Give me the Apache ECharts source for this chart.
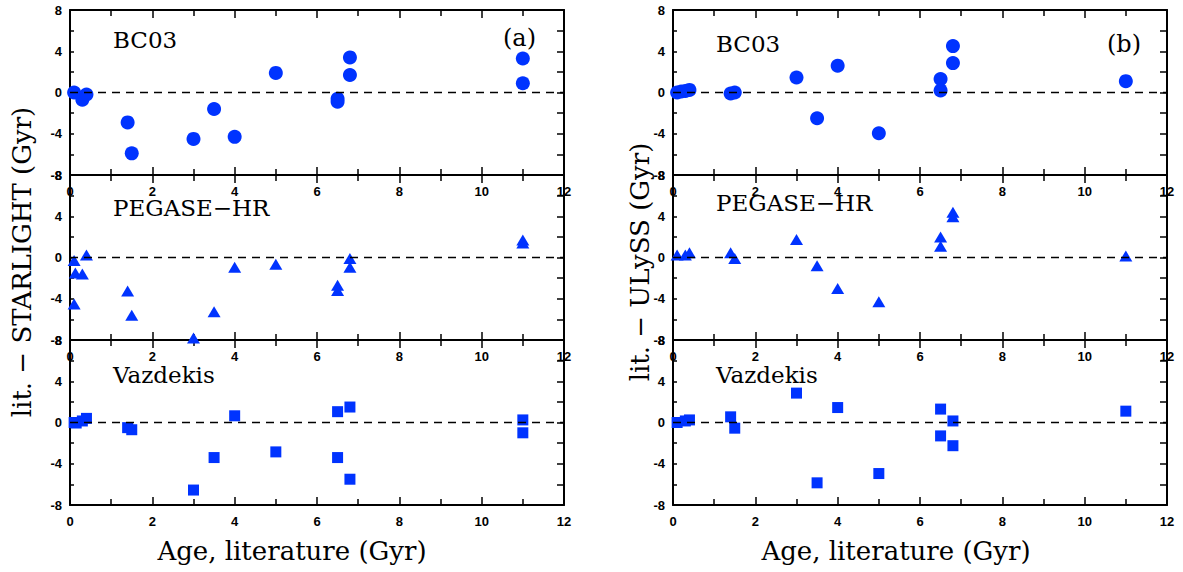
<!DOCTYPE html>
<html>
<head>
<meta charset="utf-8">
<script src="https://cdn.jsdelivr.net/npm/echarts@6/dist/echarts.min.js"></script>
<style>html,body{margin:0;padding:0;background:#fff;}#c{width:1183px;height:572px;}</style>
</head>
<body>
<div id="c"></div>
<script>
// ---- Data (Age literature in Gyr, lit. - model in Gyr) ----
var xTicks = [0, 2, 4, 6, 8, 10, 12];
var yTicks = [-8, -4, 0, 4, 8];

// STARLIGHT (panel a)
var bc03S_x = [0.1, 0.3, 0.4, 1.4, 1.5, 3.0, 3.5, 4.0, 5.0, 6.5, 6.5, 6.8, 6.8, 11.0, 11.0];
var bc03S_y = [0.0, -0.7, -0.2, -2.9, -5.9, -4.5, -1.6, -4.3, 1.9, -0.6, -0.9, 3.4, 1.7, 3.3, 0.9];
var pegS_x = [0.1, 0.13, 0.3, 0.4, 0.1, 1.4, 1.5, 3.0, 3.5, 4.0, 5.0, 6.5, 6.5, 6.8, 6.8, 11.0, 11.0];
var pegS_y = [-0.3, -1.5, -1.6, 0.25, -4.5, -3.25, -5.6, -7.8, -5.25, -0.95, -0.65, -2.7, -3.2, -0.1, -0.95, 1.7, 1.4];
var vazS_x = [0.1, 0.15, 0.3, 0.4, 1.4, 1.5, 3.0, 3.5, 4.0, 5.0, 6.5, 6.8, 6.5, 6.8, 11.0, 11.0];
var vazS_y = [0.0, -0.05, 0.15, 0.4, -0.5, -0.7, -6.55, -3.4, 0.65, -2.85, 1.05, 1.5, -3.4, -5.5, 0.25, -1.0];

// ULySS (panel b)
var bc03U_x = [0.1, 0.2, 0.3, 0.4, 1.4, 1.5, 3.0, 3.5, 4.0, 5.0, 6.5, 6.5, 6.8, 6.8, 11.0];
var bc03U_y = [0.0, 0.1, 0.15, 0.25, -0.1, 0.0, 1.45, -2.5, 2.6, -3.95, 1.3, 0.2, 4.5, 2.85, 1.1];
var pegU_x = [0.1, 0.3, 0.4, 1.4, 1.5, 3.0, 3.5, 4.0, 5.0, 6.5, 6.5, 6.8, 6.8, 11.0];
var pegU_y = [0.25, 0.25, 0.45, 0.45, -0.1, 1.75, -0.8, -3.0, -4.3, 2.0, 1.1, 4.4, 3.95, 0.15];
var vazU_x = [0.1, 0.3, 0.4, 1.4, 1.5, 3.0, 3.5, 4.0, 5.0, 6.5, 6.5, 6.8, 6.8, 11.0];
var vazU_y = [0.0, 0.15, 0.25, 0.55, -0.55, 2.85, -5.85, 1.45, -4.95, 1.3, -1.3, 0.15, -2.25, 1.1];

var modelNames = ['BC03', 'PEGASE\u2212HR', 'Vazdekis'];
var panelTags = ['(a)', '(b)'];
var yTitles = ['lit. \u2212 STARLIGHT (Gyr)', 'lit. \u2212 ULySS (Gyr)'];
var xTitle = 'Age, literature (Gyr)';

// ---- Build ----
function pairs(xs, ys) { return xs.map(function (x, i) { return [x, ys[i]]; }); }
var panels = [
  {col: 0, row: 0, data: pairs(bc03S_x, bc03S_y), sym: 'circle'},
  {col: 0, row: 1, data: pairs(pegS_x, pegS_y), sym: 'triangle'},
  {col: 0, row: 2, data: pairs(vazS_x, vazS_y), sym: 'rect'},
  {col: 1, row: 0, data: pairs(bc03U_x, bc03U_y), sym: 'circle'},
  {col: 1, row: 1, data: pairs(pegU_x, pegU_y), sym: 'triangle'},
  {col: 1, row: 2, data: pairs(vazU_x, vazU_y), sym: 'rect'}
];
var lefts = [70, 673], W = 494, tops = [10, 175, 340], H = 165;
var blue = '#0033ff';
var labFont = {fontFamily: 'Liberation Sans', fontSize: 13, fontWeight: 'bold', color: '#000'};
// label offsets (top) per [col][row]
var nameTop = [[18, 21, 23], [22, 16, 23]];

var grid = [], xAxis = [], yAxis = [], series = [], graphic = [];
panels.forEach(function (p, g) {
  grid.push({left: lefts[p.col], top: tops[p.row], width: W, height: H});
  var axLine = {show: true, onZero: false, lineStyle: {color: '#000', width: 2}};
  xAxis.push({type: 'value', gridIndex: g, position: 'bottom', min: xTicks[0], max: xTicks[xTicks.length - 1], interval: 2,
    axisLine: axLine, axisTick: {inside: true, length: 8, lineStyle: {color: '#000', width: 1.5}},
    minorTick: {show: true, splitNumber: 2, length: 6, lineStyle: {color: '#000', width: 1.5}},
    axisLabel: Object.assign({margin: 10, hideOverlap: false, showMinLabel: true, showMaxLabel: true}, labFont),
    splitLine: {show: false}});
  xAxis.push({type: 'value', gridIndex: g, position: 'top', min: 0, max: 12, interval: 2,
    axisLine: axLine, axisTick: {inside: true, length: 8, lineStyle: {color: '#000', width: 1.5}},
    minorTick: {show: true, splitNumber: 2, length: 6, lineStyle: {color: '#000', width: 1.5}},
    axisLabel: {show: false}, splitLine: {show: false}});
  yAxis.push({type: 'value', gridIndex: g, position: 'left', min: yTicks[0], max: yTicks[yTicks.length - 1], interval: 4,
    axisLine: axLine, axisTick: {inside: true, length: 4, lineStyle: {color: '#000', width: 1.5}},
    minorTick: {show: true, splitNumber: 2, length: 4, lineStyle: {color: '#000', width: 1.5}},
    axisLabel: Object.assign({margin: 8, hideOverlap: false, showMinLabel: true, showMaxLabel: true}, labFont),
    splitLine: {show: false}});
  yAxis.push({type: 'value', gridIndex: g, position: 'right', min: -8, max: 8, interval: 2,
    axisLine: axLine, axisTick: {inside: true, length: 7, lineStyle: {color: '#000', width: 1.5}},
    axisLabel: {show: false}, splitLine: {show: false}});
  var size = p.sym === 'circle' ? 14 : (p.sym === 'triangle' ? [13, 11] : 11);
  series.push({type: 'scatter', xAxisIndex: 2 * g, yAxisIndex: 2 * g, data: p.data,
    symbol: p.sym, symbolSize: size, itemStyle: {color: blue, opacity: 1}, silent: true,
    markLine: {silent: true, symbol: ['none', 'none'], label: {show: false},
      lineStyle: {color: '#000', width: 1.3, type: [8, 6]}, data: [{yAxis: 0}]}});
  graphic.push({type: 'text', left: lefts[p.col] + 43, top: tops[p.row] + nameTop[p.col][p.row],
    style: {text: modelNames[p.row], fontFamily: 'DejaVu Serif', fontSize: 23, fill: '#000'}});
});
graphic.push({type: 'text', left: 503, top: 26, style: {text: panelTags[0], fontFamily: 'DejaVu Serif', fontSize: 24, fill: '#000'}});
graphic.push({type: 'text', left: 1107, top: 32, style: {text: panelTags[1], fontFamily: 'DejaVu Serif', fontSize: 24, fill: '#000'}});
[22, 640].forEach(function (cx, i) {
  graphic.push({type: 'text', x: cx, y: 262, rotation: Math.PI / 2,
    style: {text: yTitles[i], fontFamily: 'DejaVu Serif', fontSize: 26, fill: '#000', align: 'center', verticalAlign: 'middle'}});
});
[292, 896].forEach(function (cx) {
  graphic.push({type: 'text', x: cx, y: 551,
    style: {text: xTitle, fontFamily: 'DejaVu Serif', fontSize: 26, fill: '#000', align: 'center', verticalAlign: 'middle'}});
});

var chart = echarts.init(document.getElementById('c'), null, {renderer: 'svg'});
chart.setOption({animation: false, backgroundColor: '#fff', grid: grid, xAxis: xAxis, yAxis: yAxis, series: series, graphic: graphic});
</script>
</body>
</html>
